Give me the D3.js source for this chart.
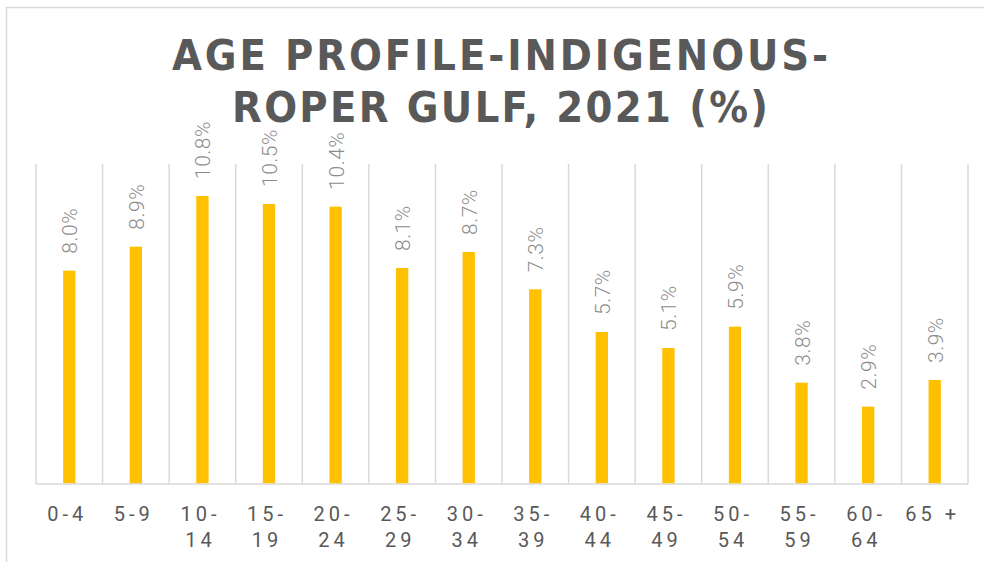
<!DOCTYPE html>
<html>
<head>
<meta charset="utf-8">
<script src="https://cdn.jsdelivr.net/npm/d3@7"></script>
<style>
  html, body { margin: 0; padding: 0; background: #fff; }
  svg { display: block; }
</style>
</head>
<body>
<svg id="chart" width="984" height="562"></svg>
<script>
const categories = ["0-4", "5-9", "10-14", "15-19", "20-24", "25-29", "30-34", "35-39", "40-44", "45-49", "50-54", "55-59", "60-64", "65 +"];
const tickLines = [["0-4"], ["5-9"], ["10-", "14"], ["15-", "19"], ["20-", "24"], ["25-", "29"], ["30-", "34"], ["35-", "39"], ["40-", "44"], ["45-", "49"], ["50-", "54"], ["55-", "59"], ["60-", "64"], ["65 +"]];
const values = [8.0, 8.9, 10.8, 10.5, 10.4, 8.1, 8.7, 7.3, 5.7, 5.1, 5.9, 3.8, 2.9, 3.9];
const titleLines = ["AGE PROFILE-INDIGENOUS-", "ROPER GULF, 2021 (%)"];

const svg = d3.select("#chart");
const W = 984, H = 562;
const plot = { left: 36, right: 968, top: 164, bottom: 484 };

// chart border
svg.append("rect")
  .attr("x", 6.5).attr("y", 7.5)
  .attr("width", W + 20).attr("height", H + 20)
  .attr("fill", "none").attr("stroke", "#d9d9d9").attr("stroke-width", 1.5);

// title
const title = svg.append("g");
const titleY = [70, 122];
const titleW = [656, 536];
titleLines.forEach((t, i) => {
  title.append("text")
    .attr("x", 500).attr("y", titleY[i])
    .attr("text-anchor", "middle")
    .attr("font-family", "'Liberation Sans Narrow', 'DejaVu Sans Condensed', sans-serif")
    .attr("font-weight", 700)
    .attr("font-size", 43)
    .attr("fill", "#595959")
    .attr("textLength", titleW[i])
    .attr("lengthAdjust", "spacing")
    .text(t);
});

const x = d3.scaleBand().domain(categories).range([plot.left, plot.right]).padding(0);
const y = d3.scaleLinear().domain([0, 12]).range([plot.bottom, plot.top]);
const barW = x.bandwidth() * 0.185;

// vertical gridlines at category boundaries
const bounds = categories.map(c => x(c)).concat([plot.right]);
svg.append("g").selectAll("line").data(bounds).join("line")
  .attr("x1", d => d).attr("x2", d => d)
  .attr("y1", plot.top).attr("y2", plot.bottom)
  .attr("stroke", "#d9d9d9").attr("stroke-width", 1.5);

// baseline
svg.append("line")
  .attr("x1", plot.left).attr("x2", plot.right)
  .attr("y1", plot.bottom).attr("y2", plot.bottom)
  .attr("stroke", "#d9d9d9").attr("stroke-width", 1.5);

// bars
svg.append("g").selectAll("rect").data(values).join("rect")
  .attr("x", (d, i) => x(categories[i]) + x.bandwidth() / 2 - barW / 2)
  .attr("y", d => y(d))
  .attr("width", barW)
  .attr("height", d => y(0) - y(d) - 0.8)
  .attr("fill", "#ffc000");

// data labels
svg.append("g").selectAll("text").data(values).join("text")
  .attr("transform", (d, i) => `translate(${x(categories[i]) + x.bandwidth() / 2 + 0.5},${y(d) - 17}) rotate(-90)`)
  .attr("dy", "0.36em")
  .attr("font-family", "Roboto, 'Noto Sans', sans-serif")
  .attr("font-weight", 300)
  .attr("font-size", 21)
  .attr("letter-spacing", 0.5)
  .attr("fill", "#8c8c8c")
  .text(d => d.toFixed(1) + "%");

// x tick labels
const tg = svg.append("g");
tickLines.forEach((lines, i) => {
  lines.forEach((ln, j) => {
    tg.append("text")
      .attr("x", x(categories[i]) + x.bandwidth() / 2 - 2)
      .attr("y", 521 + j * 26)
      .attr("text-anchor", "middle")
      .attr("font-family", "Roboto, 'Noto Sans', sans-serif")
      .attr("font-weight", 400)
      .attr("font-size", 20)
      .attr("letter-spacing", 4)
      .attr("fill", "#595959")
      .text(ln);
  });
});
</script>
</body>
</html>
